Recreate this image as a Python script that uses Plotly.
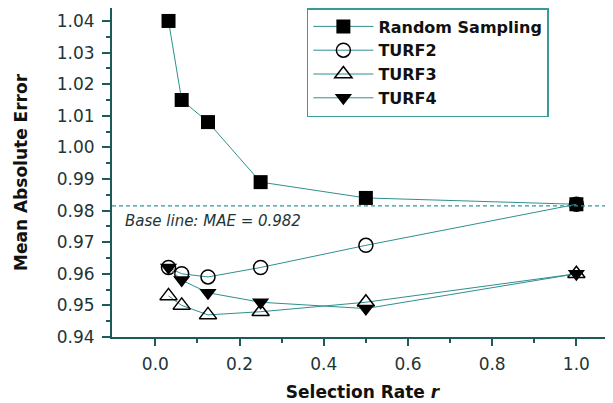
import plotly.graph_objects as go

rates = [0.03125, 0.0625, 0.125, 0.25, 0.5, 1.0]
random_sampling = [1.040, 1.015, 1.008, 0.989, 0.984, 0.982]
turf2 = [0.962, 0.960, 0.959, 0.962, 0.969, 0.982]
turf3 = [0.953, 0.950, 0.947, 0.948, 0.951, 0.960]
turf4 = [0.962, 0.958, 0.954, 0.951, 0.949, 0.960]
series_names = ["Random Sampling", "TURF2", "TURF3", "TURF4"]
baseline = 0.9815
baseline_label = "Base line: MAE = 0.982"
x_ticks = [0.0, 0.2, 0.4, 0.6, 0.8, 1.0]

LINE = "#2f8f8f"
AXIS = "#1d5a5a"
FONT = "DejaVu Sans, Liberation Sans, sans-serif"
TXT = "#1d3535"

fig = go.Figure()
markers = [
    dict(symbol="square", size=14, color="black"),
    dict(symbol="circle-open", size=14, color="black", line=dict(width=1.5, color="black")),
    dict(symbol="triangle-up-open", size=15, color="black", line=dict(width=1.5, color="black")),
    dict(symbol="triangle-down", size=15, color="black"),
]
for name, ys, mk in zip(series_names, [random_sampling, turf2, turf3, turf4], markers):
    fig.add_trace(go.Scatter(x=rates, y=ys, name="<b>" + name + "</b>", mode="lines+markers",
                             line=dict(color=LINE, width=1), marker=mk))

fig.add_hline(y=baseline, line=dict(color="#2a9a9a", width=1.2, dash="4px,3px"))
fig.add_annotation(x=-0.078, y=0.9767, xref="x", yref="y", text="<i>" + baseline_label + "</i>",
                   showarrow=False, xanchor="left", yanchor="middle",
                   font=dict(family=FONT, size=15, color=TXT))

fig.update_layout(
    width=613, height=403,
    margin=dict(l=104, r=8, t=0, b=74),
    paper_bgcolor="white", plot_bgcolor="white",
    font=dict(family=FONT, color=TXT),
    legend=dict(x=0.389, y=1.0, xanchor="left", yanchor="top",
                bordercolor="#3a9a9a", borderwidth=1.5, bgcolor="white",
                font=dict(family=FONT, size=16, color="#111"),
                itemwidth=60, tracegroupgap=0),
    showlegend=True,
)
fig.update_xaxes(range=[-0.103, 1.087], tickvals=x_ticks,
                 ticktext=["%.1f" % v for v in x_ticks],
                 ticks="outside", ticklen=7, tickwidth=1.5, tickcolor=AXIS,
                 minor=dict(tickvals=[0.1, 0.3, 0.5, 0.7, 0.9], ticks="outside", ticklen=4, tickcolor=AXIS, tickwidth=1.5),
                 showline=True, linecolor=AXIS, linewidth=2, showgrid=False, zeroline=False,
                 automargin=False, ticklabelstandoff=4,
                 tickfont=dict(size=17, family=FONT, color=TXT),
                 title=dict(text="<b>Selection Rate <i>r</i></b>", font=dict(size=17, family=FONT, color="#111"), standoff=13))
fig.update_yaxes(range=[0.94, 1.0441], dtick=0.01, tickformat=".2f",
                 ticks="outside", ticklen=8, tickwidth=1.5, tickcolor=AXIS,
                 minor=dict(dtick=0.005, ticks="outside", ticklen=4, tickcolor=AXIS, tickwidth=1.5),
                 showline=True, linecolor=AXIS, linewidth=2, showgrid=False, zeroline=False,
                 automargin=False, ticklabelstandoff=4,
                 tickfont=dict(size=17, family=FONT, color=TXT),
                 title=dict(text="<b>Mean Absolute Error</b>", font=dict(size=17, family=FONT, color="#111"), standoff=25))

fig.write_html("out.html")
